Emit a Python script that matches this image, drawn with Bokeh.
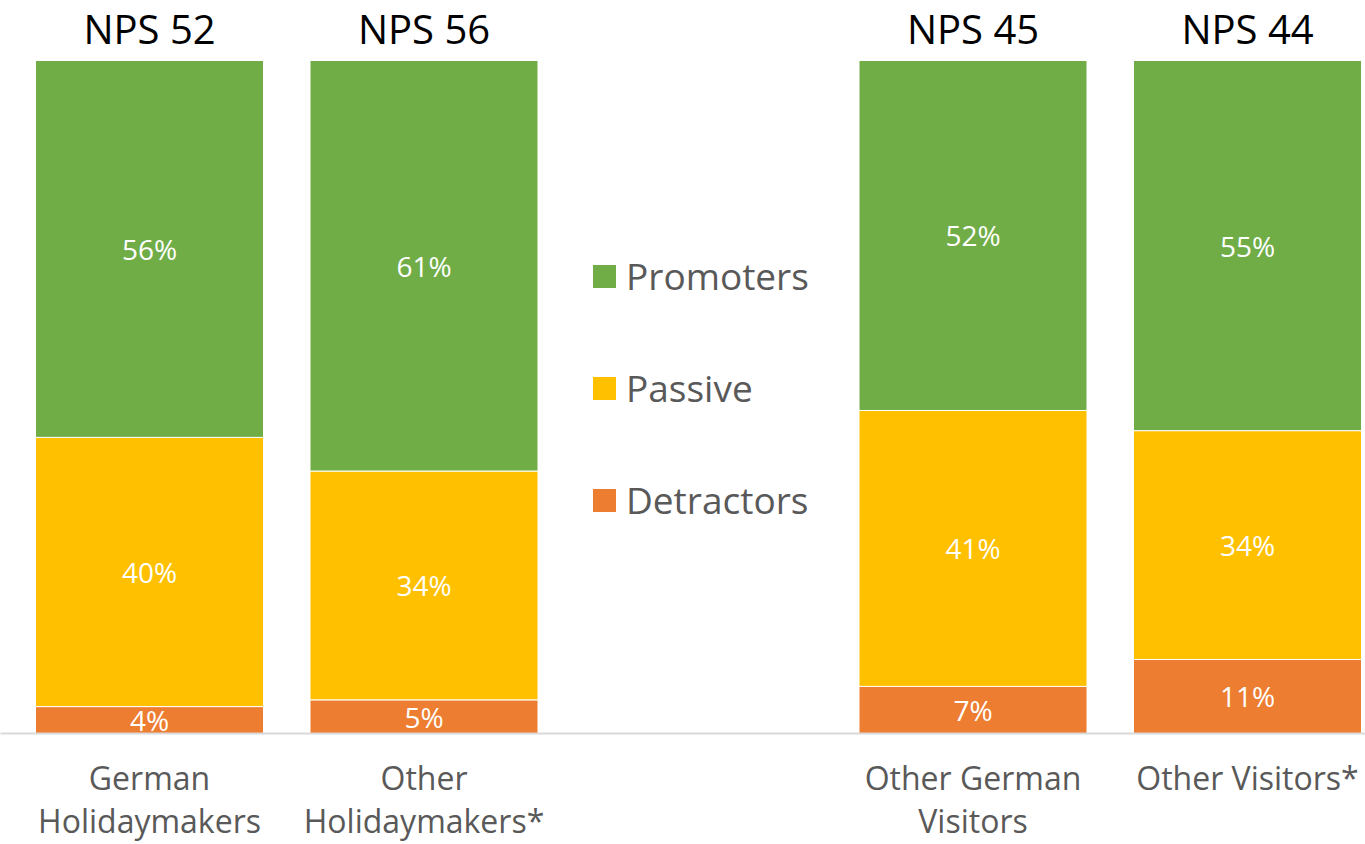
from bokeh.plotting import figure
from bokeh.models import ColumnDataSource, Range1d, FixedTicker, Legend, LegendItem
from bokeh.core.properties import value
from bokeh.embed import file_html
from bokeh.resources import INLINE

# ---- data ----
categories = ["German\nHolidaymakers", "Other\nHolidaymakers*", "Other German\nVisitors", "Other Visitors*"]
slot_positions = [0, 1, 3, 4]
nps_scores = [52, 56, 45, 44]
detractors = [4, 5, 7, 11]
passive = [40, 34, 41, 34]
promoters = [56, 61, 52, 55]
series_names = ["Detractors", "Passive", "Promoters"]
series_colors = ["#ED7D31", "#FFC000", "#70AD47"]

FONT = "Open Sans"

src = ColumnDataSource(dict(x=slot_positions, Detractors=detractors,
                            Passive=passive, Promoters=promoters))

p = figure(width=1365, height=844, output_backend="svg", toolbar_location=None,
           x_range=Range1d(-0.54281, 4.42987), y_range=Range1d(0, 108.915),
           y_axis_location=None, min_border_left=0, min_border_right=0,
           min_border_top=0, min_border_bottom=111)
p.outline_line_color = None
p.xgrid.visible = False
p.ygrid.visible = False
p.background_fill_color = "white"
p.border_fill_color = "white"

renderers = p.vbar_stack(series_names, x="x", width=0.8306, source=src,
                         fill_color=series_colors, line_color="white", line_width=1)

# segment labels
lx, ly, lt = [], [], []
for i, x in enumerate(slot_positions):
    base = 0
    for vals in (detractors, passive, promoters):
        v = vals[i]
        lx.append(x)
        ly.append(base + v / 2)
        lt.append(f"{v}%")
        base += v
p.text(x=lx, y=ly, text=lt, text_align="center", text_baseline="middle",
       text_color="white", text_font=value(FONT), text_font_size="28px")

# NPS titles above bars
tops = [d + pa + pr for d, pa, pr in zip(detractors, passive, promoters)]
p.text(x=slot_positions, y=tops, text=[f"NPS {s}" for s in nps_scores],
       text_align="center", text_baseline="middle", y_offset=-32,
       text_color="black", text_font=value(FONT), text_font_size="40px")

# x axis
ax = p.xaxis[0]
ax.ticker = FixedTicker(ticks=slot_positions)
ax.major_label_overrides = {pos: lab for pos, lab in zip(slot_positions, categories)}
ax.major_tick_line_color = None
ax.minor_tick_line_color = None
ax.axis_line_color = "#D9D9D9"
ax.axis_line_width = 2
ax.major_label_text_font = FONT
ax.major_label_text_font_size = "32px"
ax.major_label_text_color = "#595959"
ax.major_label_standoff = 16
ax.major_label_text_line_height = 1.0

# legend
items = [LegendItem(label=name, renderers=[r]) for name, r in zip(series_names, renderers)][::-1]
legend = Legend(items=items, location=(589, 208), padding=0, margin=0,
                spacing=61, glyph_width=30, glyph_height=30, label_standoff=7,
                label_text_font=FONT, label_text_font_size="37px",
                label_text_color="#595959", border_line_color=None,
                background_fill_alpha=0)
p.add_layout(legend)

open("out.html", "w").write(file_html(p, INLINE))
